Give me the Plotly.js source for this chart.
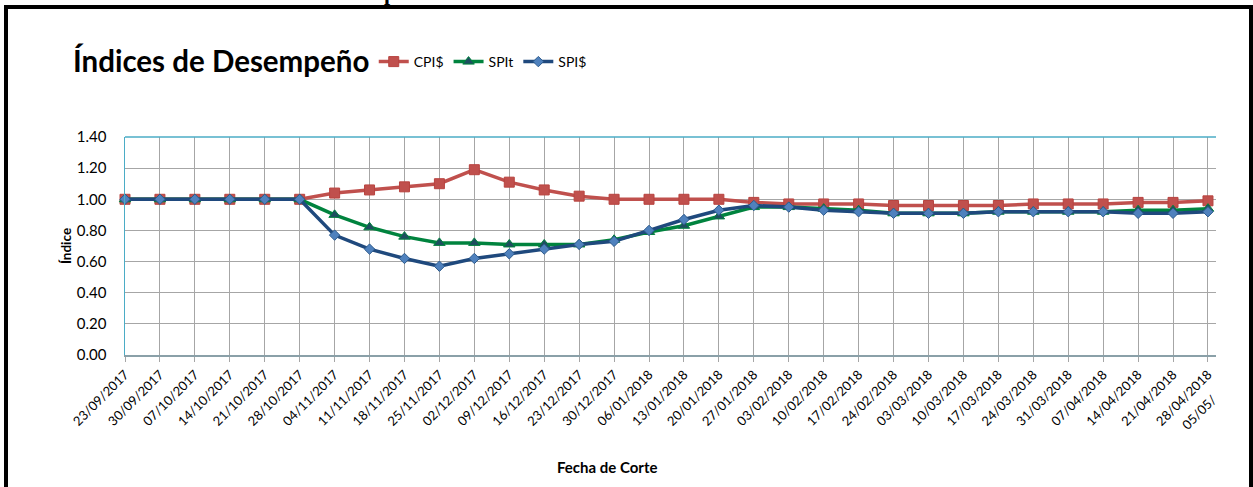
<!DOCTYPE html>
<html>
<head>
<meta charset="utf-8">
<script src="https://cdn.plot.ly/plotly-3.0.1.min.js"></script>
<style>
  html, body { margin: 0; padding: 0; background: #ffffff; width: 1253px; height: 487px; overflow: hidden; }
  #frame { position: absolute; left: 4px; top: 5px; width: 1241px; height: 600px;
           border-left: 4px solid #000; border-top: 4px solid #000; border-right: 4px solid #000; }
  #cut { position: absolute; left: 380px; top: 0px; width: 20px; height: 6px; overflow: hidden; }
  #cut span { position: absolute; left: 4px; top: -18px; font-family: "Liberation Serif", serif;
              font-weight: bold; font-size: 22px; line-height: 22px; color: #000; }
  #chart { position: absolute; left: 0; top: 0; width: 1253px; height: 487px; }
</style>
</head>
<body>
<div id="frame"></div>
<div id="cut"><span>p</span></div>
<div id="chart"></div>
<script>
// ---- data ----
const fechas = [
  "23/09/2017","30/09/2017","07/10/2017","14/10/2017","21/10/2017","28/10/2017",
  "04/11/2017","11/11/2017","18/11/2017","25/11/2017","02/12/2017","09/12/2017",
  "16/12/2017","23/12/2017","30/12/2017","06/01/2018","13/01/2018","20/01/2018",
  "27/01/2018","03/02/2018","10/02/2018","17/02/2018","24/02/2018","03/03/2018",
  "10/03/2018","17/03/2018","24/03/2018","31/03/2018","07/04/2018","14/04/2018",
  "21/04/2018","28/04/2018"
];
const cpi = [1.00,1.00,1.00,1.00,1.00,1.00,1.04,1.06,1.08,1.10,1.19,1.11,
             1.06,1.02,1.00,1.00,1.00,1.00,0.98,0.97,0.97,0.97,0.96,0.96,
             0.96,0.96,0.97,0.97,0.97,0.98,0.98,0.99];
const spit = [1.00,1.00,1.00,1.00,1.00,1.00,0.90,0.82,0.76,0.72,0.72,0.71,
              0.71,0.71,0.74,0.79,0.83,0.89,0.95,0.95,0.94,0.93,0.91,0.91,
              0.91,0.92,0.92,0.92,0.92,0.93,0.93,0.94];
const spi = [1.00,1.00,1.00,1.00,1.00,1.00,0.77,0.68,0.62,0.57,0.62,0.65,
             0.68,0.71,0.73,0.80,0.87,0.93,0.96,0.95,0.93,0.92,0.91,0.91,
             0.91,0.92,0.92,0.92,0.92,0.91,0.91,0.92];
const nombres = ["CPI$", "SPIt", "SPI$"];
const yTicks = [0, 0.2, 0.4, 0.6, 0.8, 1.0, 1.2, 1.4];
const siguienteFecha = "05/05/";

const FONT = "Lato, 'Open Sans', sans-serif";

const traces = [
  { x: fechas, y: cpi, name: nombres[0], type: "scatter", mode: "lines+markers", cliponaxis: false,
    line: { color: "#C0504D", width: 3.5 },
    marker: { symbol: "square", size: 10, color: "#C0504D", line: { color: "#B8433F", width: 1 } } },
  { x: fechas, y: spit, name: nombres[1], type: "scatter", mode: "lines+markers", cliponaxis: false,
    line: { color: "#00833E", width: 3.5 },
    marker: { symbol: "triangle-up", size: 10, color: "#1D4E5F", line: { color: "#00833E", width: 1 } } },
  { x: fechas, y: spi, name: nombres[2], type: "scatter", mode: "lines+markers", cliponaxis: false,
    line: { color: "#1F497D", width: 3.5 },
    marker: { symbol: "diamond", size: 8, color: "#4F81BD", line: { color: "#2C5A8C", width: 1 } } }
];

const layout = {
  width: 1253, height: 487,
  margin: { l: 125, r: 37, t: 137, b: 132, pad: 0 },
  paper_bgcolor: "rgba(0,0,0,0)",
  plot_bgcolor: "rgba(0,0,0,0)",
  font: { family: FONT, color: "#000000" },
  showlegend: true,
  title: {
    text: "Índices de Desempeño",
    font: { family: FONT, size: 29.5, weight: 700, color: "#000000" },
    xref: "container", x: 73 / 1253, xanchor: "left",
    yref: "container", y: 1 - 62 / 487, yanchor: "middle"
  },
  legend: {
    orientation: "h", xref: "paper", yref: "paper",
    x: 0.228, xanchor: "left", y: 1.344, yanchor: "middle",
    font: { family: FONT, size: 14, color: "#000000" },
    bgcolor: "rgba(0,0,0,0)", itemwidth: 30, traceorder: "normal"
  },
  xaxis: {
    type: "category",
    range: [0, 31.23],
    tickmode: "array", tickvals: fechas, ticktext: fechas,
    tickangle: -45,
    tickfont: { family: FONT, size: 13, color: "#000000" },
    ticks: "outside", ticklen: 5, tickcolor: "#A6A6A6", tickwidth: 1,
    showgrid: true, gridcolor: "#A6A6A6", gridwidth: 1,
    showline: true, linecolor: "#8AA0A8", linewidth: 2,
    zeroline: false, fixedrange: true
  },
  yaxis: {
    range: [0, 1.4],
    tickmode: "array", tickvals: yTicks,
    tickformat: ".2f",
    tickfont: { family: FONT, size: 15, color: "#000000" },
    ticks: "", ticklabelstandoff: 14,
    showgrid: true, gridcolor: "#A6A6A6", gridwidth: 1,
    showline: true, linecolor: "#4BACC6", linewidth: 1.5,
    zeroline: false, fixedrange: true,
    title: { text: "Índice", font: { family: FONT, size: 13.5, weight: 700, color: "#000000" }, standoff: 2 }
  },
  shapes: [
    { type: "line", xref: "paper", yref: "paper", x0: 0, x1: 1, y0: 1, y1: 1,
      line: { color: "#4BACC6", width: 1.5 }, layer: "above" }
  ],
  annotations: [
    { text: "Fecha de Corte", xref: "paper", yref: "paper",
      x: (607 - 125) / 1091, y: -(467 - 355) / 218, xanchor: "center", yanchor: "middle",
      showarrow: false, font: { family: FONT, size: 15, weight: 700, color: "#000000" } },
    { text: siguienteFecha, xref: "paper", yref: "paper",
      x: (1199 - 125) / 1091, y: -(412 - 355) / 218, xanchor: "center", yanchor: "middle",
      textangle: -45, showarrow: false, font: { family: FONT, size: 13, color: "#000000" } }
  ]
};

Plotly.newPlot("chart", traces, layout, { displayModeBar: false, staticPlot: true });
</script>
</body>
</html>
